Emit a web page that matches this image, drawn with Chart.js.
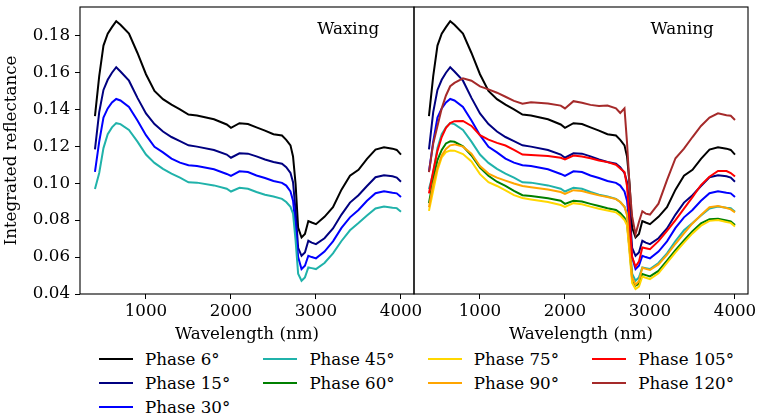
<!DOCTYPE html>
<html>
<head>
<meta charset="utf-8">
<script src="https://cdn.jsdelivr.net/npm/chart.js@4.4.1/dist/chart.umd.min.js"></script>
<style>
  body { margin: 0; background: #fff; width: 757px; height: 414px; position: relative; overflow: hidden; font-family: 'DejaVu Serif', serif; }
  canvas { position: absolute; top: 0; }
  #left { left: 0; }
  #right { left: 390px; }
  .leg { position: absolute; height: 20px; display: flex; align-items: center; font-size: 16.7px; color: #000; white-space: nowrap; }
  .leg span.ln { display: inline-block; width: 34px; height: 2px; margin-right: 12px; }
</style>
</head>
<body>
<canvas id="left" width="440" height="345"></canvas>
<canvas id="right" width="367" height="345"></canvas>
<div id="legend"></div>
<script>
// wavelength grid (nm)
const wavelength = [400,450,500,550,600,650,700,800,900,1000,
  1100,1200,1300,1400,1500,1600,1800,1950,2000,
  2100,2200,2300,2400,2500,2600,
  2650,2700,2730,2760,2790,2830,2870,2910,2950,3000,
  3100,3200,3300,3400,3500,3600,3700,3800,3900,3950,4000];

const phase6 = [.1363,.158,.1745,.181,.1845,.1877,.1858,.181,.1705,.159,
  .150,.1455,.1425,.140,.1372,.1367,.1346,.1318,.130,
  .1325,.132,.1302,.1285,.1265,.1258,
  .1235,.1205,.1145,.0996,.076,.0706,.0725,.0795,.0787,.0778,
  .0818,.087,.0965,.104,.1072,.1132,.1182,.1195,.1187,.118,.1155];

const phase15 = [.1183,.1385,.1505,.156,.1598,.1628,.1605,.1555,.1462,.1378,
  .132,.128,.125,.1228,.1205,.1198,.118,.1155,.1138,
  .1162,.116,.1145,.1128,.1115,.1105,
  .1087,.1055,.1005,.085,.065,.0607,.0625,.0688,.0678,.067,
  .0702,.0755,.083,.0895,.0935,.0985,.1032,.1043,.1037,.103,.1008];

const phase30 = [.1061,.1225,.1355,.1405,.1437,.1456,.1448,.1413,.134,.126,
  .1197,.1167,.1133,.1111,.1097,.1093,.1075,.105,.1039,
  .1064,.106,.1042,.1028,.1012,.1002,
  .0987,.0955,.0905,.077,.060,.0535,.0553,.0607,.060,.0593,
  .063,.0685,.0758,.0815,.0855,.0905,.0946,.0956,.0948,.0945,.0925];

const phase45 = [.0968,.1055,.119,.1265,.1302,.1325,.132,.1288,.1225,.1155,
  .111,.1078,.1052,.103,.1005,.1003,.0988,.097,.0955,
  .0975,.097,.0952,.0937,.0928,.0915,
  .0898,.0872,.0835,.069,.051,.0472,.049,.0544,.054,.0535,
  .0568,.062,.0687,.0745,.0784,.0825,.0863,.0874,.0867,.0865,.0845];

const phase60 = [.0892,.102,.1125,.118,.1215,.1227,.1224,.120,.115,.1085,
  .104,.1008,.0985,.0958,.0935,.093,.0918,.0905,.0888,
  .0905,.0901,.0888,.0876,.0864,.0855,
  .0838,.0812,.078,.064,.048,.0445,.0455,.0508,.0502,.0495,
  .0525,.058,.0637,.069,.074,.0782,.0805,.0808,.0798,.0793,.0773];

const phase75 = [.085,.096,.107,.114,.1168,.1177,.1176,.1158,.1118,.1049,
  .1005,.0985,.0961,.0935,.092,.0912,.0898,.0882,.0872,
  .0892,.0886,.0873,.0862,.0852,.0842,
  .0825,.080,.0772,.062,.046,.0427,.044,.0495,.0488,.0481,
  .0512,.0568,.0625,.0678,.0728,.077,.0796,.0801,.079,.0785,.0766];

const phase90 = [.087,.0995,.1085,.115,.1185,.1205,.121,.1198,.116,.1093,
  .1052,.103,.1014,.0998,.0985,.0978,.0966,.0952,.0942,
  .0962,.0958,.0945,.0934,.0925,.0914,
  .0898,.0872,.0825,.066,.049,.045,.047,.0542,.0536,.053,
  .056,.0612,.0672,.0728,.0782,.0828,.087,.0876,.0866,.0858,.0842];

const phase105 = [.0945,.1066,.1175,.125,.130,.1326,.1336,.1337,.131,.126,
  .1236,.1218,.1204,.118,.1155,.1152,.1147,.1138,.1129,
  .115,.1144,.1135,.1123,.1114,.110,
  .108,.106,.0985,.080,.060,.0548,.0575,.0652,.0648,.0643,
  .0686,.0742,.080,.0862,.0925,.099,.1035,.1066,.1066,.1055,.1036];

const phase120 = [.106,.1215,.131,.1405,.1475,.1525,.1543,.1568,.1555,.1524,
  .1508,.149,.1468,.1446,.143,.1438,.1432,.142,.1405,
  .1444,.1436,.1424,.1418,.142,.1405,
  .138,.1405,.122,.098,.082,.0724,.079,.0848,.0835,.083,
  .0889,.1017,.1135,.1187,.125,.131,.1355,.1378,.1368,.1365,.1342];

const phaseLabels = ['Phase 6°','Phase 15°','Phase 30°','Phase 45°','Phase 60°',
  'Phase 75°','Phase 90°','Phase 105°','Phase 120°'];
const phaseColors = ['#000000','#000080','#0000ff','#20b2aa','#008000',
  '#ffd700','#ffa500','#ff0000','#a52a2a'];
const phaseValues = [phase6, phase15, phase30, phase45, phase60, phase75, phase90, phase105, phase120];

const xTicks = [1000, 2000, 3000, 4000];
const yTicks = [0.04, 0.06, 0.08, 0.10, 0.12, 0.14, 0.16, 0.18];
const xMin = 224, xMax = 4153;
const yMin = 0.04, yMax = 0.1954;

const FONT = { family: "'DejaVu Serif', serif", size: 16.7 };

function makeDatasets(idx) {
  return idx.map((k, n) => ({
    label: phaseLabels[k],
    data: wavelength.map((w, i) => ({ x: w, y: phaseValues[k][i] })),
    borderColor: phaseColors[k],
    borderWidth: 2,
    pointRadius: 0,
    fill: false,
    tension: 0,
    order: idx.length - n
  }));
}

// box around plot + panel label
const framePlugin = {
  id: 'frame',
  afterDraw(chart, args, opts) {
    const ctx = chart.ctx;
    const a = chart.chartArea;
    ctx.save();
    ctx.strokeStyle = '#000';
    ctx.lineWidth = 1.1;
    ctx.strokeRect(a.left, a.top, a.right - a.left, a.bottom - a.top);
    ctx.fillStyle = '#000';
    ctx.font = FONT.size + 'px ' + FONT.family;
    ctx.textAlign = 'center';
    ctx.textBaseline = 'alphabetic';
    ctx.fillText(opts.text, a.left + 0.803 * (a.right - a.left), a.bottom - 0.907 * (a.bottom - a.top));
    ctx.restore();
  }
};

function makeOptions(showY, label) {
  return {
    responsive: false,
    animation: false,
    layout: { padding: showY ? { top: 7, right: 26, left: 0, bottom: 0 } : { top: 7, right: 9, left: 24, bottom: 0 } },
    plugins: { legend: { display: false }, tooltip: { enabled: false }, frame: { text: label } },
    scales: {
      x: {
        type: 'linear', min: xMin, max: xMax,
        afterBuildTicks: s => { s.ticks = xTicks.map(v => ({ value: v })); },
        afterFit: s => { s.height = 51; s.paddingLeft = 0; s.paddingRight = 0; },
        grid: { drawOnChartArea: false, color: '#000', tickLength: 5, lineWidth: 1 },
        border: { display: false },
        ticks: { color: '#000', font: FONT, padding: 3, maxRotation: 0, callback: v => String(v) },
        title: { display: true, text: 'Wavelength (nm)', color: '#000', font: FONT, padding: { top: 0, bottom: 0 } }
      },
      y: {
        display: showY,
        min: yMin, max: yMax,
        afterBuildTicks: s => { s.ticks = yTicks.map(v => ({ value: v })); },
        afterFit: s => { s.width = showY ? 80 : 0; s.paddingTop = 0; s.paddingBottom = 0; },
        grid: { drawOnChartArea: false, color: '#000', tickLength: 5, lineWidth: 1 },
        border: { display: false },
        ticks: { color: '#000', font: FONT, padding: 5, callback: v => v.toFixed(2) },
        title: { display: true, text: 'Integrated reflectance', color: '#000', font: FONT, padding: { top: 2, bottom: 0 } }
      }
    }
  };
}

new Chart(document.getElementById('left'), {
  type: 'line',
  data: { datasets: makeDatasets([0, 1, 2, 3]) },
  options: makeOptions(true, 'Waxing'),
  plugins: [framePlugin]
});

new Chart(document.getElementById('right'), {
  type: 'line',
  data: { datasets: makeDatasets([0, 1, 2, 3, 4, 5, 6, 7, 8]) },
  options: makeOptions(false, 'Waning'),
  plugins: [framePlugin]
});

// legend, 4 columns filled column-wise like the original (3,2,2,2)
const legCol = [0, 0, 0, 1, 1, 2, 2, 3, 3];
const legRow = [0, 1, 2, 0, 1, 0, 1, 0, 1];
const legend = document.getElementById('legend');
phaseLabels.forEach((lab, k) => {
  const d = document.createElement('div');
  d.className = 'leg';
  d.style.left = (99 + legCol[k] * 164.4) + 'px';
  d.style.top = (349 + legRow[k] * 24.2) + 'px';
  d.innerHTML = '<span class="ln" style="background:' + phaseColors[k] + '"></span>' + lab;
  legend.appendChild(d);
});
</script>
</body>
</html>
